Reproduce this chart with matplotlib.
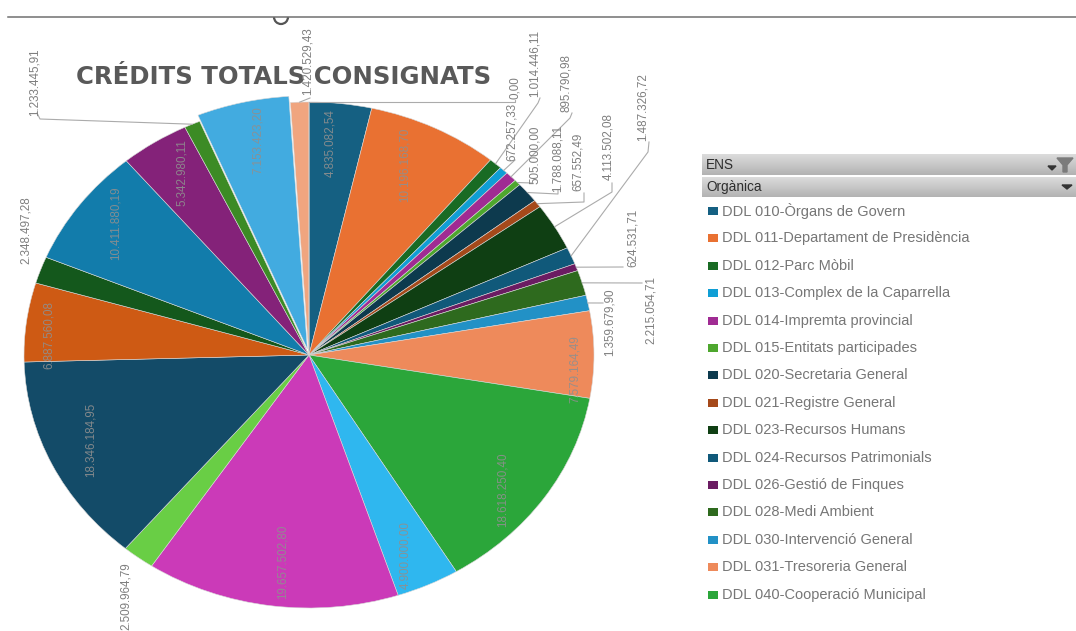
import matplotlib
matplotlib.use('Agg')
import matplotlib.pyplot as plt
import numpy as np
from matplotlib.patches import Rectangle, Polygon, Arc

W, H = 1076, 631
CX, CY, RX, RY = 309, 355, 285, 253

# slices, clockwise from the top
values = [4835082.54, 10196168.70, 1014446.11, 672257.33, 895790.98, 505000.00,
          1788088.11, 657552.49, 4113502.08, 1487326.72, 624531.71, 2215054.71,
          1359679.90, 7579164.49, 18618250.40, 4900000.00, 19657502.80, 2509964.79,
          18346184.95, 6887560.08, 2348497.28, 10411880.19, 5342980.11, 1233445.91,
          7153423.20, 1420529.43, 0.00]
colors = ['#156082', '#E97132', '#196B24', '#0F9ED5', '#A02B93', '#4EA72E',
          '#0D3A4E', '#A5491A', '#0F3F13', '#10597A', '#6B1C62', '#2E6A1E',
          '#2291C6', '#EE8A5B', '#2BA63A', '#2FB7EF', '#CB3AB8', '#69CE45',
          '#134B68', '#CE5A14', '#14581C', '#127CAB', '#842279', '#3C8B25',
          '#42ABE0', '#F0A57F', '#F0A57F']
legend_names = ['DDL 010-Òrgans de Govern', 'DDL 011-Departament de Presidència',
                'DDL 012-Parc Mòbil', 'DDL 013-Complex de la Caparrella',
                'DDL 014-Impremta provincial', 'DDL 015-Entitats participades',
                'DDL 020-Secretaria General', 'DDL 021-Registre General',
                'DDL 023-Recursos Humans', 'DDL 024-Recursos Patrimonials',
                'DDL 026-Gestió de Finques', 'DDL 028-Medi Ambient',
                'DDL 030-Intervenció General', 'DDL 031-Tresoreria General',
                'DDL 040-Cooperació Municipal']
explode = [0.025 if v == 7153423.20 else 0 for v in values]

# label centres in pixels, by slice index
inside_pos = {0: (330, 143), 1: (405, 165), 13: (575, 369), 14: (503, 490), 15: (405, 555),
              16: (283, 562), 18: (91, 440), 19: (49, 335), 21: (116, 223), 22: (182, 173),
              24: (258, 140)}
outside_pos = {2: (535, 63), 3: (512, 132), 4: (566, 83), 5: (535, 155), 6: (558, 158),
               7: (578, 162), 8: (608, 147), 9: (643, 107), 10: (633, 238), 11: (651, 310),
               12: (610, 322), 17: (126, 596), 20: (26, 230), 23: (35, 82), 25: (308, 61),
               26: (515, 88)}
# leader lines, after the point on the slice edge
leaders = {2: [(538, 103), (540, 98)], 3: [(515, 160)], 4: [(570, 118), (572, 113)],
           5: [(532, 183)], 6: [(558, 194), (558, 190)], 7: [(584, 202), (584, 193)],
           8: [(612, 192), (612, 183)], 9: [(648, 152), (649, 142)], 10: [(623, 267)],
           11: [(642, 283)], 12: [(603, 303)], 23: [(40, 119), (37, 113)], 25: [(310, 98)],
           26: [(515, 102), (515, 100)]}


def fmt(v):
    return f'{v:,.2f}'.replace(',', ' ').replace('.', ',').replace(' ', '.')


fig = plt.figure(figsize=(W / 100, H / 100), dpi=100, facecolor='white')
plt.rcParams['font.family'] = ['Liberation Sans', 'DejaVu Sans']

# pie axes: the reference pie is stretched sideways, so scales differ
ax = fig.add_axes([0, 0, 1, 1])
wedges, _ = ax.pie(values, colors=colors, startangle=90, counterclock=False, explode=explode,
                   wedgeprops=dict(edgecolor='#d8d8d8', linewidth=0.4))
ax.set_aspect('auto')
ax.set_xlim(-CX / RX, (W - CX) / RX)
ax.set_ylim(-(H - CY) / RY, CY / RY)

# overlay in pixels
ov = fig.add_axes([0, 0, 1, 1])
ov.patch.set_alpha(0)
ov.axis('off')

# top rule and handle
ov.plot([8, W], [17, 17], color='#707070', lw=1.1)
ov.add_patch(Arc((281, 17), 14, 14, theta1=0, theta2=180, color='#555555', lw=1.6))

ov.text(76, 77, 'CRÉDITS TOTALS CONSIGNATS', fontsize=17.6, fontweight='bold',
        family=['DejaVu Sans'], color='#595959', va='center', ha='left')

for i, w in enumerate(wedges):
    if i in inside_pos:
        x, y = inside_pos[i]
        ov.text(x, y, fmt(values[i]), rotation=90, ha='center', va='center',
                fontsize=8.4, color='#8f8f8f', alpha=0.9)
    if i in outside_pos:
        x, y = outside_pos[i]
        ov.text(x, y, fmt(values[i]), rotation=90, ha='center', va='center',
                fontsize=8.4, color='#7f7f7f')
    if i in leaders:
        t = np.radians((w.theta1 + w.theta2) / 2)
        sx = CX + RX * np.cos(t)
        sy = CY - RY * np.sin(t)
        pts = [(sx, sy)] + leaders[i]
        ov.plot([p[0] for p in pts], [p[1] for p in pts], color='#ababab', lw=0.8)

# legend header bars
grad = np.linspace(0.86, 0.70, 32).reshape(-1, 1)
for top, bottom, name in [(154, 175, 'ENS'), (177, 197, 'Orgànica')]:
    ov.imshow(grad, extent=(702, W, bottom, top), cmap='gray', vmin=0, vmax=1, aspect='auto')
    ov.text(706, (top + bottom) / 2 + 0.5, name, fontsize=9.8, color='#2e2e2e', va='center')
for tx, ty, s in [(1052, 168, 4), (1067, 187, 5)]:
    ov.add_patch(Polygon([(tx - s, ty - 2), (tx + s, ty - 2), (tx, ty + 2)], color='#333333'))
ov.add_patch(Polygon([(1057, 158), (1073, 158), (1067, 165), (1067, 172), (1063, 172), (1063, 165)],
                     color='#7b7b7b'))

# legend entries
ys = 211 + 27.4 * np.arange(len(legend_names))
for name, color, y in zip(legend_names, colors, ys):
    ov.add_patch(Rectangle((708, y - 4), 10, 8, color=color, lw=0))
    ov.text(722, y, name, fontsize=10.5, color='#767676', va='center', ha='left')

ov.set_xlim(0, W)
ov.set_ylim(H, 0)

fig.savefig('out.png', dpi=100, facecolor='white')
plt.close()
